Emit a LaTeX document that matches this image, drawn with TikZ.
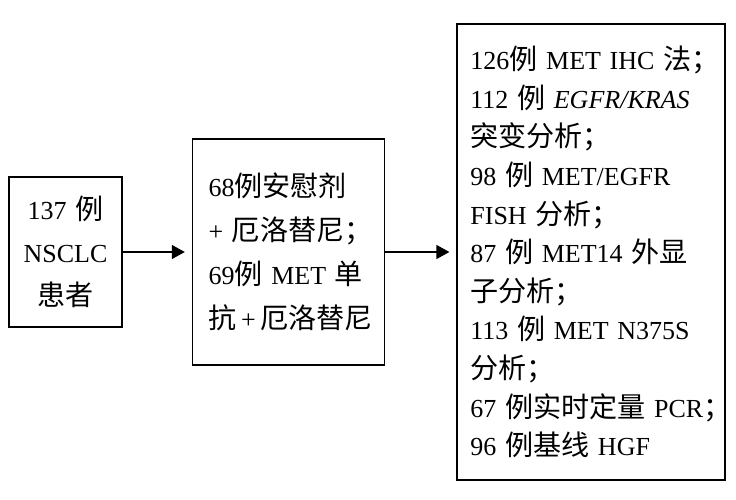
\documentclass[tikz,border=0pt]{standalone}
\usepackage{fontspec}
\setmainfont{Liberation Serif}
\newfontfamily\cjk[Scale=1.08]{Noto Sans CJK SC}
\newcommand{\zh}[1]{{\cjk #1}}
\usetikzlibrary{positioning,arrows.meta}

\begin{document}
\begin{tikzpicture}[x=1pt,y=1pt,thick,
    box/.style={draw,line width=1.6pt,inner ysep=0pt},
    link/.style={-{Triangle[length=13pt,width=14pt]},line width=1.3pt,shorten >=7pt}]
    \useasboundingbox (0,0) rectangle (736,499);
    \node[box] (1) [text width=93pt, inner xsep=10pt, minimum height=150pt, align=center,
        font=\fontsize{26}{43}\selectfont] at (65.5,247)
        {137~\zh{例}\\NSCLC\\\zh{患者}};
    \node[box] (2) [text width=160pt, inner xsep=16pt, minimum height=226pt, align=left,
        font=\fontsize{26}{44}\selectfont, right=69pt of 1]
        {68\zh{例安慰剂}\\+~\zh{厄洛替尼；}\\69\zh{例}~MET~\zh{单}\\\zh{抗}\,+\,\zh{厄洛替尼}};
    \node[box] (3) [line width=2pt, text width=242pt, inner xsep=13pt, minimum height=456pt, align=left,
        font=\fontsize{26}{38.6}\selectfont, right=71pt of 2]
        {126\zh{例}~MET~IHC~\zh{法；}\\
         112~\zh{例}~\textit{EGFR/KRAS}\\
         \zh{突变分析；}\\
         98~\zh{例}~MET/EGFR\\
         FISH~\zh{分析；}\\
         87~\zh{例}~MET14~\zh{外显}\\
         \zh{子分析；}\\
         113~\zh{例}~MET~N375S\\
         \zh{分析；}\\
         67~\zh{例实时定量}~PCR\zh{；}\\
         96~\zh{例基线}~HGF};
    \path
    (1) edge[link] (2)
    (2) edge[link] (3);
\end{tikzpicture}
\end{document}
